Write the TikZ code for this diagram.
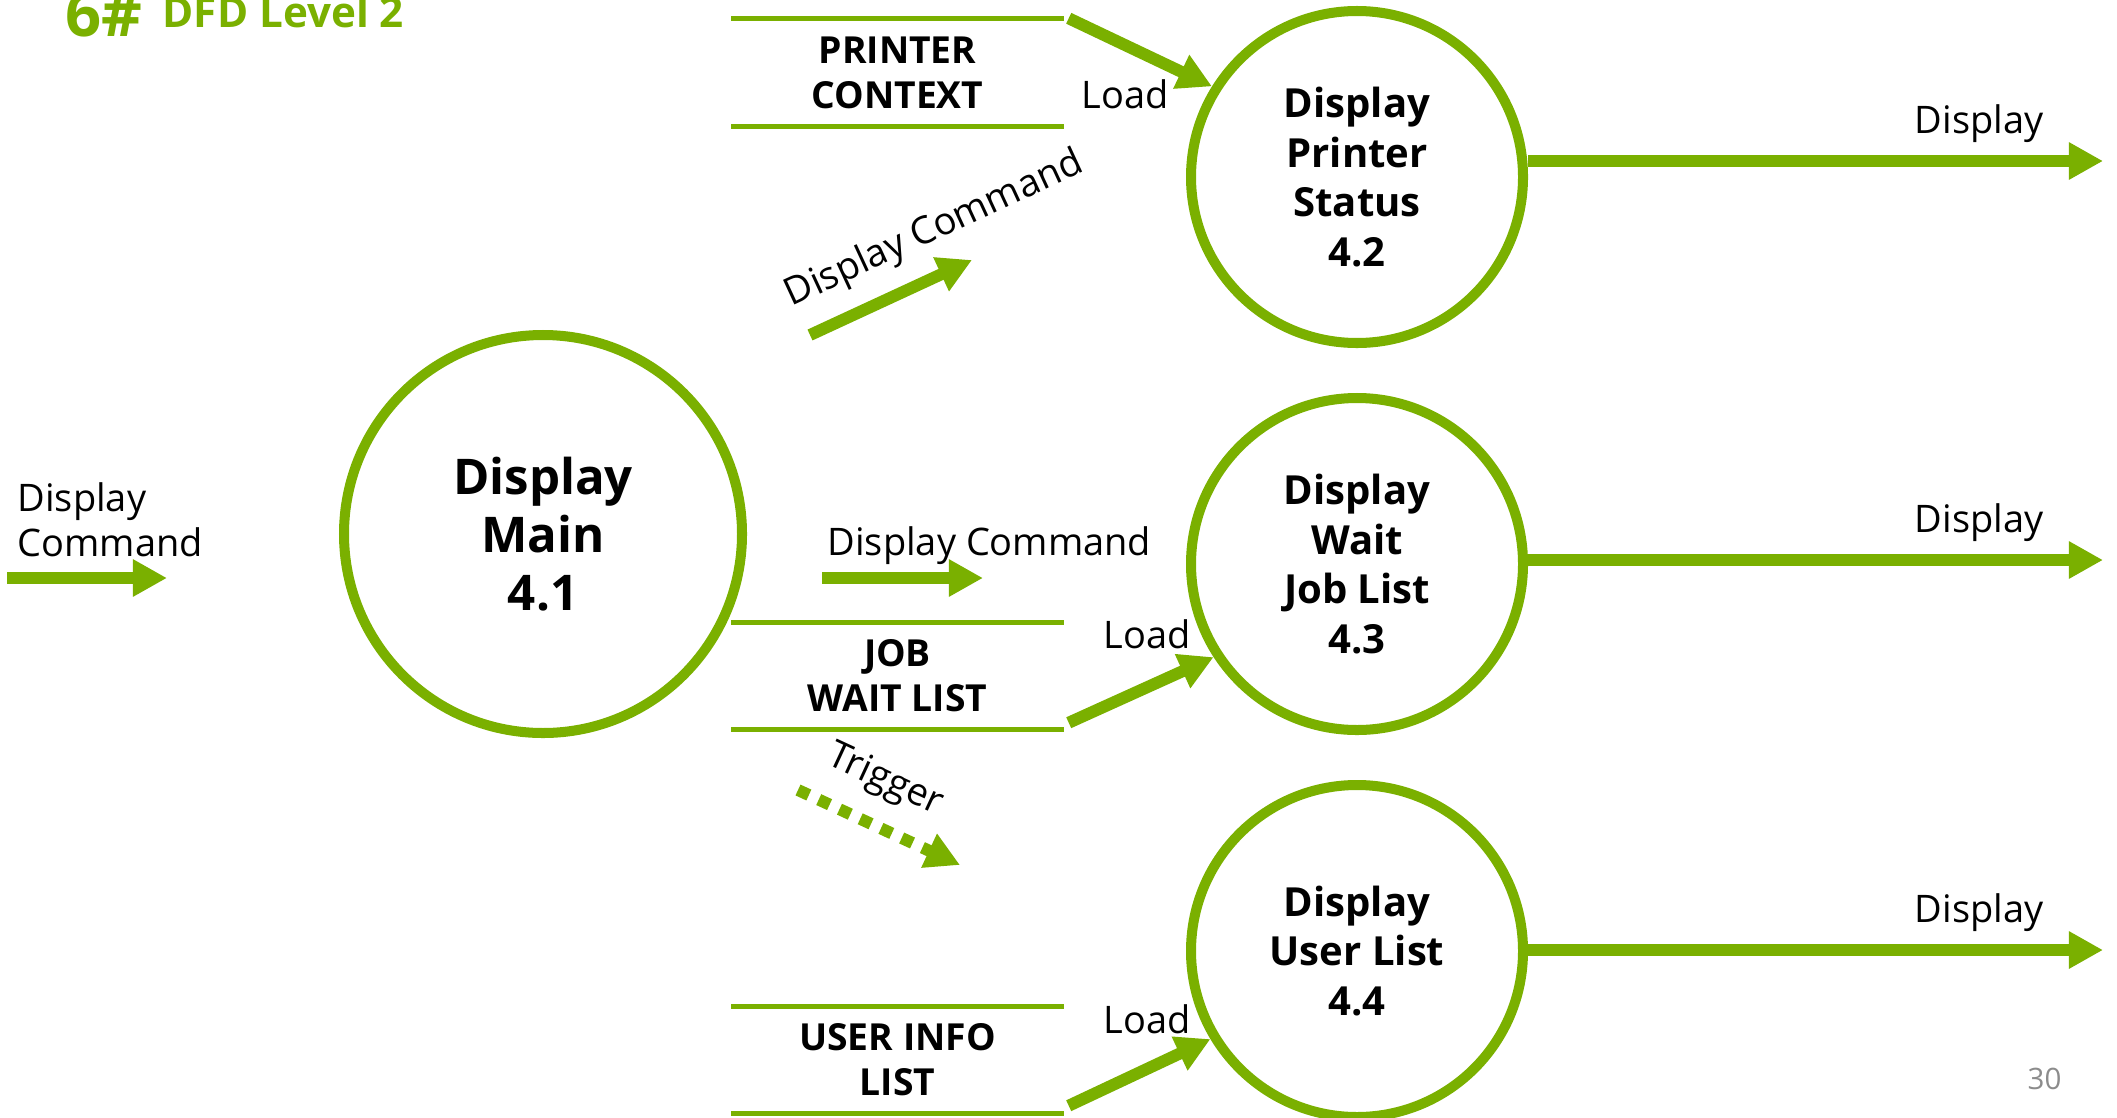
\documentclass[tikz,border=0pt]{standalone}
\usepackage{fontspec}
\setmainfont{Open Sans}
\usetikzlibrary{arrows.meta}
\definecolor{dfdgreen}{RGB}{122,176,0}
\definecolor{pagegray}{RGB}{140,140,140}

\begin{document}
\begin{tikzpicture}[
    process/.style={circle, draw=dfdgreen, line width=2.85pt, inner sep=0pt, align=center},
    bigproc/.style={process, minimum size=3.98cm, font=\bfseries\fontsize{14pt}{16.5pt}\selectfont},
    subproc/.style={process, minimum size=3.32cm, font=\bfseries\fontsize{11.4pt}{14.2pt}\selectfont},
    datastore/.style={minimum width=3.31cm, minimum height=1.06cm, inner sep=0pt, align=center, font=\bfseries\fontsize{10.6pt}{12.8pt}\selectfont},
    flowlbl/.style={font=\fontsize{10.8pt}{12.8pt}\selectfont, inner sep=0pt},
    flow/.style={draw=dfdgreen, line width=3.4pt, -{Triangle[length=9.7pt, width=10pt]}},
    trigflow/.style={flow, dash pattern=on 3.4pt off 3.1pt},
    storeline/.style={draw=dfdgreen, line width=1.28pt}
]
\useasboundingbox (0,0) rectangle (21.17,-11.17);

% title and page number
\node[anchor=base east, inner sep=0pt, text=dfdgreen, font=\bfseries\fontsize{18pt}{20pt}\selectfont] (titlenum) at (1.43,-0.37) {6\#};
\node[anchor=base west, inner sep=0pt, text=dfdgreen, font=\bfseries\fontsize{12pt}{14pt}\selectfont] (title) at (1.62,-0.27) {DFD Level 2};
\node[anchor=base west, inner sep=0pt, text=pagegray, font=\fontsize{8.4pt}{10pt}\selectfont] (pagenum) at (20.27,-10.89) {30};

% processes
\node[bigproc] (p41) at (5.43,-5.34) {Display\\Main\\4.1};
\node[subproc] (p42) at (13.57,-1.77) {Display\\Printer\\Status\\4.2};
\node[subproc] (p43) at (13.57,-5.64) {Display\\Wait\\Job List\\4.3};
\node[subproc] (p44) at (13.57,-9.51) {Display\\User List\\4.4};

% data stores
\node[datastore, minimum height=1.07cm] (pc) at (8.975,-0.725) {PRINTER\\CONTEXT};
\node[datastore] (jw) at (8.975,-6.76) {JOB\\WAIT LIST};
\node[datastore] (ui) at (8.975,-10.60) {USER INFO\\LIST};
\foreach \s in {pc,jw,ui} {
    \draw[storeline] (\s.north west) -- (\s.north east);
    \draw[storeline] (\s.south west) -- (\s.south east);
}

% free ends
\coordinate (inS) at (0.07,-5.78);
\coordinate (inE) at (1.67,-5.78);
\coordinate (dcaS) at (8.10,-3.35);
\coordinate (dcaE) at (9.72,-2.60);
\coordinate (dcbS) at (8.22,-5.78);
\coordinate (dcbE) at (9.83,-5.78);
\coordinate (trgS) at (7.98,-7.90);
\coordinate (trgE) at (9.60,-8.65);
\coordinate (o2) at (21.03,-1.61);
\coordinate (o3) at (21.03,-5.60);
\coordinate (o4) at (21.03,-9.50);

% input
\draw[flow] (inS) -- (inE);
\node[flowlbl, anchor=south west, align=left] (inlbl) at (0.17,-5.58) {Display\\Command};

% commands and trigger
\draw[flow] (dcaS) -- (dcaE) node[flowlbl, sloped, above=0.18cm, pos=0.88] (dcalbl) {Display Command};
\draw[flow] (dcbS) -- (dcbE);
\node[flowlbl, anchor=base west] (dcblbl) at (8.27,-5.55) {Display Command};
\draw[trigflow] (trgS) -- (trgE) node[flowlbl, sloped, above=0.2cm, pos=0.42] (trglbl) {Trigger};

% loads
\draw[flow] ([xshift=0.05cm]pc.north east) -- (p42.148);
\draw[flow] ([shift={(0.05,0.07)}]jw.south east) -- (p43.213);
\draw[flow] ([shift={(0.05,0.08)}]ui.south east) -- (p44.211);
\node[flowlbl, anchor=base] (ld2) at (11.25,-1.08) {Load};
\node[flowlbl, anchor=base] (ld3) at (11.47,-6.48) {Load};
\node[flowlbl, anchor=base] (ld4) at (11.47,-10.33) {Load};

% outputs
\draw[flow] (p42.east |- o2) -- (o2);
\draw[flow] (p43.east |- o3) -- (o3);
\draw[flow] (p44.east |- o4) -- (o4);
\node[flowlbl, anchor=base] (out2) at (19.79,-1.33) {Display};
\node[flowlbl, anchor=base] (out3) at (19.79,-5.32) {Display};
\node[flowlbl, anchor=base] (out4) at (19.79,-9.22) {Display};
\end{tikzpicture}
\end{document}
